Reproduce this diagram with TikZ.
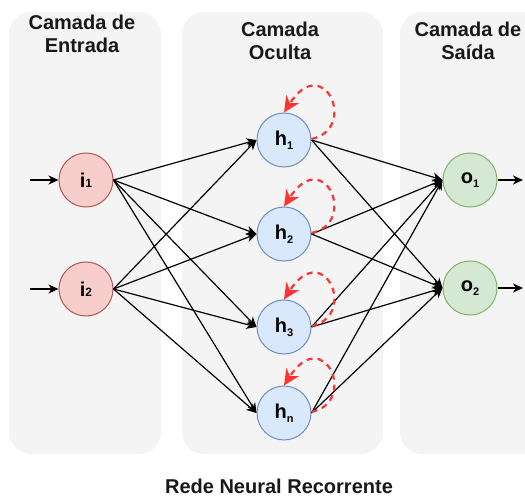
\documentclass[tikz,border=0pt]{standalone}
\usepackage{fontspec}
\setmainfont{Liberation Sans}
\usetikzlibrary{arrows.meta}
\definecolor{panelc}{HTML}{F4F4F4}
\definecolor{infill}{HTML}{F8CECC}
\definecolor{indraw}{HTML}{B85450}
\definecolor{hfill}{HTML}{DAE8FC}
\definecolor{hdraw}{HTML}{6C8EBF}
\definecolor{ofill}{HTML}{D5E8D4}
\definecolor{odraw}{HTML}{82B366}
\definecolor{loopc}{HTML}{FF3333}
\newcommand{\mysub}[1]{\raisebox{-4pt}{\fontsize{11}{11}\selectfont #1}}
\newcommand{\mysmall}[1]{{\fontsize{12}{12}\selectfont #1}}
\begin{document}
\begin{tikzpicture}[x=1pt,y=-1pt,
  panel/.style={fill=panelc,draw=none,rounded corners=22pt},
  title/.style={font=\fontsize{20}{23}\selectfont\bfseries,align=center,text=black!90},
  neuron/.style={circle,minimum size=54pt,inner sep=0pt,line width=1pt,font=\fontsize{20}{20}\selectfont\bfseries},
  inn/.style={neuron,fill=infill,draw=indraw},
  hid/.style={neuron,fill=hfill,draw=hdraw},
  outn/.style={neuron,fill=ofill,draw=odraw},
  conn/.style={line width=1.2pt,-{Stealth[length=10pt,width=9pt,inset=3pt]}},
  selfloop/.style={draw=loopc,line width=2.2pt,dash pattern=on 6pt off 5pt,-{Stealth[length=16pt,width=15pt,inset=5pt]},color=loopc}
]
\useasboundingbox (0,0) rectangle (525,497);
\begin{scope}
\clip (0,0) rectangle (525,497);
\fill[panel] (9,12) rectangle (161,454);
\fill[panel] (182,12) rectangle (383,454);
\fill[panel] (400,12) rectangle (560,454);
\end{scope}

\node[title] (t1) at (82,34) {Camada de\\Entrada};
\node[title] (t2) at (280,41) {Camada\\Oculta};
\node[title] (t3) at (468,41) {Camada de\\Saída};
\node[font=\fontsize{20}{20}\selectfont\bfseries,text=black!90] (t4) at (279,486) {Rede Neural Recorrente};

\node[inn] (i1) at (86,180) {i\mysmall{1}};
\node[inn] (i2) at (86,289) {i\mysmall{2}};

\node[hid] (h1) at (284,140) {h\mysub{1}};
\node[hid] (h2) at (284,234) {h\mysub{2}};
\node[hid] (h3) at (284,327) {h\mysub{3}};
\node[hid] (hn) at (284,413) {h\mysub{n}};

\node[outn] (o1) at (470,180) {o\mysub{1}};
\node[outn] (o2) at (470,288) {o\mysub{2}};

\coordinate (a1) at (30,180);
\coordinate (a2) at (30,289);
\coordinate (b1) at (523,180);
\coordinate (b2) at (523,288);

\draw[conn] (a1) -- (i1.west);
\draw[conn] (a2) -- (i2.west);
\draw[conn] (o1.east) -- (b1);
\draw[conn] (o2.east) -- (b2);

\foreach \i in {i1,i2}{
  \foreach \h in {h1,h2,h3,hn}{
    \draw[conn] (\i.east) -- (\h.west);
  }
}
\foreach \h in {h1,h2,h3,hn}{
  \foreach \o in {o1,o2}{
    \draw[conn] (\h.east) -- (\o.west);
  }
}

\foreach \h in {h1,h2,h3,hn}{
  \draw[selfloop] ([yshift=1pt]\h.east) .. controls +(47,-10) and +(40,-62) .. (\h.north);
}
\end{tikzpicture}
\end{document}
